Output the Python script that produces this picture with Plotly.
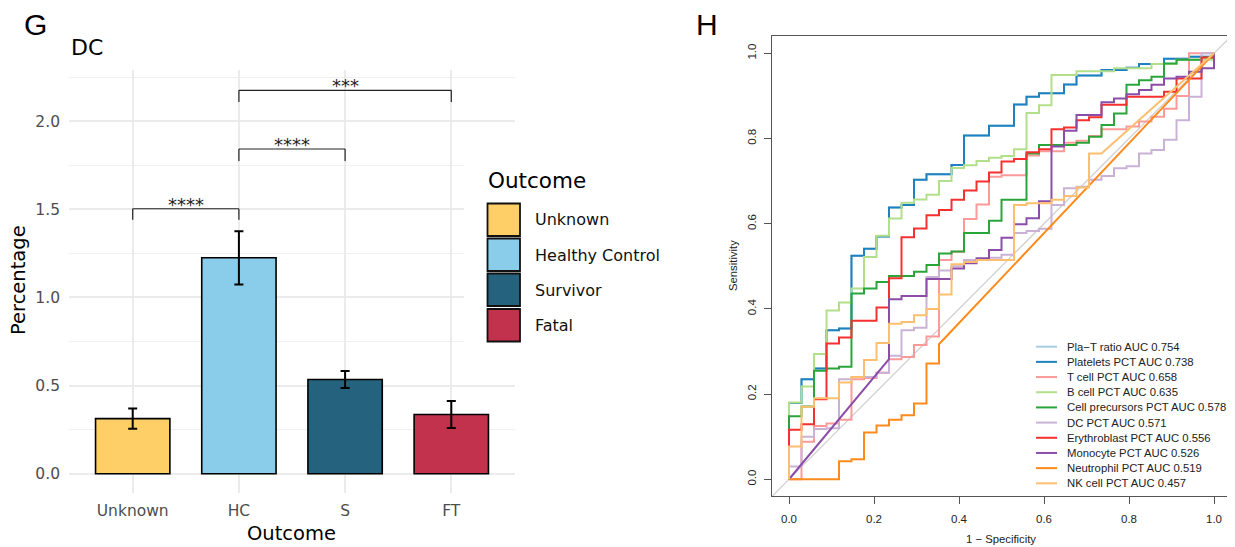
import plotly.graph_objects as go

W, H = 1235, 547
OFF = 8  # default page body margin of the html page
FW, FH = W - OFF, H - OFF

# ---------------- Panel G data ----------------
categories = ["Unknown", "HC", "S", "FT"]
legend_names = ["Unknown", "Healthy Control", "Survivor", "Fatal"]
bar_colors = ["#FECE67", "#89CDEB", "#24627E", "#C3324D"]
mean_pct = [0.313, 1.225, 0.535, 0.336]
se_pct = [0.057, 0.151, 0.048, 0.077]

cmp_left = [0, 1, 1]
cmp_right = [1, 2, 3]
cmp_level = [1.503, 1.842, 2.175]
cmp_drop = [0.063, 0.068, 0.066]
cmp_label = ["****", "****", "***"]

# ---------------- Panel H data (ROC curves) ----------------
platelets_fpr = [0, 0, 0.0294, 0.0294, 0.0588, 0.0588, 0.0882, 0.0882, 0.1176, 0.1176, 0.147, 0.147, 0.1765, 0.1765,
                 0.2059, 0.2059, 0.2353, 0.2353, 0.2647, 0.2647, 0.2941, 0.2941, 0.3235, 0.3235, 0.3824, 0.3824,
                 0.4118, 0.4118, 0.4706, 0.4706, 0.5294, 0.5294, 0.5588, 0.5588, 0.5882, 0.5882, 0.6471, 0.6471,
                 0.6765, 0.6765, 0.7353, 0.7353, 0.7941, 0.7941, 0.8235, 0.8235, 0.8824, 0.8824, 0.9412, 0.9412, 1, 1]
platelets_tpr = [0, 0.179, 0.179, 0.235, 0.235, 0.26, 0.26, 0.35, 0.35, 0.354, 0.354, 0.525, 0.525, 0.541,
                 0.541, 0.570, 0.570, 0.638, 0.638, 0.644, 0.644, 0.703, 0.703, 0.716, 0.716, 0.738,
                 0.738, 0.807, 0.807, 0.830, 0.830, 0.880, 0.880, 0.898, 0.898, 0.906, 0.906, 0.927,
                 0.927, 0.948, 0.948, 0.961, 0.961, 0.966, 0.966, 0.975, 0.975, 0.987, 0.987, 0.992, 0.992, 1]
plat_fpr = list(platelets_fpr)
plat_tpr = list(platelets_tpr)

tcell_fpr = [0, 0.0294, 0.0294, 0.0588, 0.0588, 0.0882, 0.0882, 0.1176, 0.1176, 0.147, 0.147, 0.1765, 0.1765,
             0.2059, 0.2059, 0.2353, 0.2353, 0.2647, 0.2647, 0.2941, 0.2941, 0.3235, 0.3235, 0.3529, 0.3529,
             0.3824, 0.3824, 0.4118, 0.4118, 0.4412, 0.4412, 0.4706, 0.4706, 0.5, 0.5, 0.5588, 0.5588, 0.5882,
             0.5882, 0.6471, 0.6471, 0.6765, 0.6765, 0.7059, 0.7059, 0.7353, 0.7353, 0.7941, 0.7941, 0.8235,
             0.8235, 0.8529, 0.8529, 0.8824, 0.8824, 0.9118, 0.9118, 0.9412, 0.9412, 1]
tcell_tpr = [0, 0, 0.088, 0.088, 0.125, 0.125, 0.131, 0.131, 0.14, 0.14, 0.235, 0.235, 0.238,
             0.238, 0.25, 0.25, 0.282, 0.282, 0.287, 0.287, 0.315, 0.315, 0.335, 0.335, 0.515,
             0.515, 0.534, 0.534, 0.611, 0.611, 0.645, 0.645, 0.710, 0.710, 0.714, 0.714, 0.76, 0.76,
             0.77, 0.77, 0.79, 0.79, 0.795, 0.795, 0.806, 0.806, 0.822, 0.822, 0.828, 0.828,
             0.84, 0.84, 0.851, 0.851, 0.87, 0.87, 0.90, 0.90, 1.0, 1.0]

bcell_fpr = [0, 0, 0.0294, 0.0294, 0.0588, 0.0588, 0.0882, 0.0882, 0.1176, 0.1176, 0.147, 0.147, 0.1765, 0.1765,
             0.2059, 0.2059, 0.2353, 0.2353, 0.2647, 0.2647, 0.2941, 0.2941, 0.3235, 0.3235, 0.3529, 0.3529,
             0.3824, 0.3824, 0.4118, 0.4118, 0.4412, 0.4412, 0.4706, 0.4706, 0.5, 0.5, 0.5294, 0.5294, 0.5588,
             0.5588, 0.5882, 0.5882, 0.6176, 0.6176, 0.6765, 0.6765, 0.7647, 0.7647, 0.8529, 0.8529, 0.9118,
             0.9118, 1, 1]
bcell_tpr = [0, 0.18, 0.18, 0.218, 0.218, 0.294, 0.294, 0.396, 0.396, 0.415, 0.415, 0.448, 0.448, 0.522,
             0.522, 0.572, 0.572, 0.612, 0.612, 0.649, 0.649, 0.657, 0.657, 0.668, 0.668, 0.70,
             0.70, 0.731, 0.731, 0.737, 0.737, 0.747, 0.747, 0.755, 0.755, 0.759, 0.759, 0.775, 0.775,
             0.86, 0.86, 0.878, 0.878, 0.949, 0.949, 0.958, 0.958, 0.965, 0.965, 0.975, 0.975,
             0.985, 0.985, 1]

precursor_fpr = [0, 0, 0.0294, 0.0294, 0.0588, 0.0588, 0.0882, 0.0882, 0.1176, 0.1176, 0.147, 0.147, 0.1765,
                 0.1765, 0.2059, 0.2059, 0.2353, 0.2353, 0.2941, 0.2941, 0.3235, 0.3235, 0.3529, 0.3529, 0.3824,
                 0.3824, 0.4118, 0.4118, 0.4706, 0.4706, 0.5, 0.5, 0.5588, 0.5588, 0.5882, 0.5882, 0.6765, 0.6765,
                 0.7059, 0.7059, 0.7353, 0.7353, 0.7647, 0.7647, 0.7941, 0.7941, 0.8235, 0.8235, 0.8529, 0.8529,
                 0.8824, 0.8824, 0.9118, 0.9118, 0.9706, 0.9706, 1, 1]
precursor_tpr = [0, 0.148, 0.148, 0.171, 0.171, 0.255, 0.255, 0.26, 0.26, 0.264, 0.264, 0.436, 0.436,
                 0.448, 0.448, 0.463, 0.463, 0.477, 0.477, 0.487, 0.487, 0.503, 0.503, 0.53, 0.53,
                 0.535, 0.535, 0.578, 0.578, 0.607, 0.607, 0.656, 0.656, 0.765, 0.765, 0.785, 0.785, 0.79,
                 0.79, 0.804, 0.804, 0.832, 0.832, 0.859, 0.859, 0.926, 0.926, 0.937, 0.937, 0.945,
                 0.945, 0.976, 0.976, 0.985, 0.985, 0.99, 0.99, 1]

dc_fpr = [0, 0, 0.0294, 0.0294, 0.0588, 0.0588, 0.0882, 0.0882, 0.1176, 0.1176, 0.147, 0.147, 0.2059, 0.2059,
          0.2353, 0.2353, 0.2647, 0.2647, 0.2941, 0.2941, 0.3235, 0.3235, 0.3529, 0.3529, 0.3824, 0.3824,
          0.4118, 0.4118, 0.4706, 0.4706, 0.5, 0.5, 0.5294, 0.5294, 0.5588, 0.5588, 0.5882, 0.5882, 0.6176,
          0.6176, 0.6471, 0.6471, 0.6765, 0.6765, 0.7059, 0.7059, 0.7353, 0.7353, 0.7647, 0.7647, 0.7941,
          0.7941, 0.8235, 0.8235, 0.8529, 0.8529, 0.8824, 0.8824, 0.9118, 0.9118, 0.9412, 0.9412, 0.9706,
          0.9706, 1]
dc_tpr = [0, 0.03, 0.03, 0.10, 0.10, 0.118, 0.118, 0.12, 0.12, 0.235, 0.235, 0.24, 0.24, 0.25,
          0.25, 0.29, 0.29, 0.35, 0.35, 0.356, 0.356, 0.475, 0.475, 0.49, 0.49, 0.50,
          0.50, 0.515, 0.515, 0.52, 0.52, 0.527, 0.527, 0.578, 0.578, 0.583, 0.583, 0.588, 0.588,
          0.644, 0.644, 0.683, 0.683, 0.687, 0.687, 0.703, 0.703, 0.712, 0.712, 0.73, 0.73,
          0.735, 0.735, 0.765, 0.765, 0.773, 0.773, 0.797, 0.797, 0.843, 0.843, 0.898, 0.898,
          1.0, 1.0]

ery_fpr = [0, 0, 0.0294, 0.0294, 0.0588, 0.0588, 0.0882, 0.0882, 0.1176, 0.1176, 0.147, 0.147, 0.2059, 0.2059,
           0.2353, 0.2353, 0.2647, 0.2647, 0.2941, 0.2941, 0.3235, 0.3235, 0.3529, 0.3529, 0.3824, 0.3824,
           0.4118, 0.4118, 0.4412, 0.4412, 0.4706, 0.4706, 0.5, 0.5, 0.5294, 0.5294, 0.5588, 0.5588, 0.5882,
           0.5882, 0.6176, 0.6176, 0.6471, 0.6471, 0.6765, 0.6765, 0.7059, 0.7059, 0.7353, 0.7353, 0.7941,
           0.7941, 0.8824, 0.8824, 0.9118, 0.9118, 0.9706, 0.9706, 1, 1]
ery_tpr = [0, 0.116, 0.116, 0.129, 0.129, 0.188, 0.188, 0.319, 0.319, 0.333, 0.333, 0.372, 0.372, 0.403,
           0.403, 0.472, 0.472, 0.568, 0.568, 0.589, 0.589, 0.62, 0.62, 0.632, 0.632, 0.656,
           0.656, 0.678, 0.678, 0.699, 0.699, 0.72, 0.72, 0.746, 0.746, 0.752, 0.752, 0.768, 0.768,
           0.775, 0.775, 0.822, 0.822, 0.826, 0.826, 0.843, 0.843, 0.85, 0.85, 0.879, 0.879,
           0.898, 0.898, 0.91, 0.91, 0.941, 0.941, 0.99, 0.99, 1]

mono_fpr = [0, 0.2353, 0.2353, 0.2647, 0.2647, 0.3235, 0.3235, 0.3824, 0.3824, 0.4118, 0.4118, 0.4412, 0.4412,
            0.4706, 0.4706, 0.5, 0.5, 0.5294, 0.5294, 0.5588, 0.5588, 0.5882, 0.5882, 0.6176, 0.6176, 0.6471,
            0.6471, 0.6765, 0.6765, 0.7353, 0.7353, 0.7647, 0.7647, 0.7941, 0.7941, 0.8235, 0.8235, 0.8529,
            0.8529, 0.8824, 0.8824, 0.9118, 0.9118, 0.9412, 0.9412, 0.9706, 0.9706, 1, 1]
mono_tpr = [0, 0.282, 0.4225, 0.4225, 0.430, 0.430, 0.470, 0.470, 0.495, 0.495, 0.507, 0.507, 0.519,
            0.519, 0.538, 0.538, 0.567, 0.567, 0.599, 0.599, 0.613, 0.613, 0.653, 0.653, 0.781, 0.781,
            0.818, 0.818, 0.855, 0.855, 0.885, 0.885, 0.894, 0.894, 0.904, 0.904, 0.914, 0.914,
            0.926, 0.926, 0.941, 0.941, 0.945, 0.945, 0.957, 0.957, 0.965, 0.965, 1]

neut_fpr = [0, 0.1176, 0.1176, 0.147, 0.147, 0.1765, 0.1765, 0.2059, 0.2059, 0.2353, 0.2353, 0.2647, 0.2647,
            0.2941, 0.2941, 0.3235, 0.3235, 0.3529, 0.3529, 1]
neut_tpr = [0, 0, 0.042, 0.042, 0.047, 0.047, 0.110, 0.110, 0.126, 0.126, 0.140, 0.140, 0.150,
            0.150, 0.178, 0.178, 0.272, 0.272, 0.317, 1]

nk_fpr = [0, 0, 0.0294, 0.0294, 0.0588, 0.0588, 0.1176, 0.1176, 0.147, 0.147, 0.1765, 0.1765, 0.2059, 0.2059,
          0.2353, 0.2353, 0.2647, 0.2647, 0.2941, 0.2941, 0.3235, 0.3235, 0.3529, 0.3529, 0.3824, 0.3824,
          0.4118, 0.4118, 0.4412, 0.4412, 0.5294, 0.5294, 0.5588, 0.5588, 0.6176, 0.6176, 0.6471, 0.6471,
          0.6765, 0.6765, 0.7059, 0.7059, 0.7353, 1]
nk_tpr = [0, 0.077, 0.077, 0.17, 0.17, 0.19, 0.19, 0.227, 0.227, 0.24, 0.24, 0.28, 0.28, 0.32,
          0.32, 0.365, 0.365, 0.369, 0.369, 0.385, 0.385, 0.40, 0.40, 0.434, 0.434, 0.505,
          0.505, 0.51, 0.51, 0.515, 0.515, 0.644, 0.644, 0.648, 0.648, 0.656, 0.656, 0.665,
          0.665, 0.685, 0.685, 0.765, 0.765, 1]

roc_labels = ["Pla\u2212T ratio AUC 0.754", "Platelets PCT AUC 0.738", "T cell PCT AUC 0.658",
              "B cell PCT AUC 0.635", "Cell precursors PCT AUC 0.578", "DC PCT AUC 0.571",
              "Erythroblast PCT AUC 0.556", "Monocyte PCT AUC 0.526", "Neutrophil PCT AUC 0.519",
              "NK cell PCT AUC 0.457"]
roc_colors = ["#A6CEE3", "#1F82C0", "#FB9A99", "#B2DF8A", "#2AA53A", "#CAB2D6",
              "#F5312F", "#8B4DA8", "#FF8A1C", "#FDBF6F"]
roc_fpr = [plat_fpr, platelets_fpr, tcell_fpr, bcell_fpr, precursor_fpr, dc_fpr, ery_fpr, mono_fpr, neut_fpr, nk_fpr]
roc_tpr = [plat_tpr, platelets_tpr, tcell_tpr, bcell_tpr, precursor_tpr, dc_tpr, ery_tpr, mono_tpr, neut_tpr, nk_tpr]

roc_ticks = [0, 0.2, 0.4, 0.6, 0.8, 1.0]
roc_ticktext = ["0.0", "0.2", "0.4", "0.6", "0.8", "1.0"]


def px(x):
    """page pixel x -> paper fraction"""
    return (x - OFF) / FW


def py(y):
    """page pixel y (from top) -> paper fraction"""
    return 1 - (y - OFF) / FH


GFONT = "DejaVu Sans"
RFONT = "Liberation Sans"

fig = go.Figure()

# ---- Panel G bars ----
fig.add_trace(go.Bar(
    x=categories, y=mean_pct, width=0.7,
    marker=dict(color=bar_colors, line=dict(color="black", width=1.6)),
    error_y=dict(type="data", array=se_pct, color="black", thickness=2, width=4.5),
    showlegend=False, hoverinfo="skip", xaxis="x", yaxis="y"))

# ---- Panel H curves ----
for f, t, c in zip(roc_fpr, roc_tpr, roc_colors):
    fig.add_trace(go.Scatter(x=f, y=t, mode="lines", line=dict(color=c, width=2),
                             showlegend=False, hoverinfo="skip", xaxis="x2", yaxis="y2"))

shapes = []
annotations = []

# diagonal reference line
shapes.append(dict(type="line", xref="x2", yref="y2", x0=-0.04, y0=-0.04, x1=1.04, y1=1.04,
                   line=dict(color="#D0D0D0", width=1.3), layer="below"))

# significance brackets
for a, b, lv, d, lab in zip(cmp_left, cmp_right, cmp_level, cmp_drop, cmp_label):
    shapes.append(dict(type="line", xref="x", yref="y", x0=a, x1=a, y0=lv - d, y1=lv,
                       line=dict(color="#222", width=1.2)))
    shapes.append(dict(type="line", xref="x", yref="y", x0=a, x1=b, y0=lv, y1=lv,
                       line=dict(color="#222", width=1.2)))
    shapes.append(dict(type="line", xref="x", yref="y", x0=b, x1=b, y0=lv - d, y1=lv,
                       line=dict(color="#222", width=1.2)))
    annotations.append(dict(text=lab, xref="x", yref="y", x=(a + b) / 2, y=lv, yanchor="bottom",
                            yshift=-8, showarrow=False, font=dict(family=GFONT, size=18, color="#222")))

# legend (panel G): white background patch covering gridlines, keys, labels
shapes.append(dict(type="rect", xref="paper", yref="paper", x0=px(464), x1=px(700), y0=py(362), y1=py(130),
                   fillcolor="white", line=dict(width=0), layer="above"))
key_top = [203.5, 238.5, 273.5, 309]
for i, name in enumerate(legend_names):
    shapes.append(dict(type="rect", xref="paper", yref="paper", x0=px(487.5), x1=px(520),
                       y0=py(key_top[i] + 32.5), y1=py(key_top[i]),
                       fillcolor=bar_colors[i], line=dict(color="#111", width=1.8), layer="above"))
    annotations.append(dict(text=name, xref="paper", yref="paper", x=px(533), y=py(key_top[i] + 16.5),
                            xanchor="left", yanchor="middle", showarrow=False,
                            font=dict(family=GFONT, size=16, color="#111")))
annotations.append(dict(text="Outcome", xref="paper", yref="paper", x=px(486), y=py(181),
                        xanchor="left", yanchor="middle", showarrow=False,
                        font=dict(family=GFONT, size=21.5, color="black")))

# legend (panel H)
for i, (lab, c) in enumerate(zip(roc_labels, roc_colors)):
    yy = 346.7 + 15.18 * i
    shapes.append(dict(type="line", xref="paper", yref="paper", x0=px(1036), x1=px(1057), y0=py(yy), y1=py(yy),
                       line=dict(color=c, width=2), layer="above"))
    annotations.append(dict(text=lab, xref="paper", yref="paper", x=px(1065), y=py(yy),
                            xanchor="left", yanchor="middle", showarrow=False,
                            font=dict(family=RFONT, size=11.3, color="#222")))

# titles & panel letters
annotations += [
    dict(text="G", xref="paper", yref="paper", x=px(35), y=py(25), xanchor="center", yanchor="middle",
         showarrow=False, font=dict(family=RFONT, size=30, color="black")),
    dict(text="H", xref="paper", yref="paper", x=px(707), y=py(25), xanchor="center", yanchor="middle",
         showarrow=False, font=dict(family=RFONT, size=30, color="black")),
    dict(text="DC", xref="paper", yref="paper", x=px(69), y=py(48), xanchor="left", yanchor="middle",
         showarrow=False, font=dict(family=GFONT, size=22, color="black")),
    dict(text="Percentage", xref="paper", yref="paper", x=px(18), y=py(280), xanchor="center", yanchor="middle",
         textangle=-90, showarrow=False, font=dict(family=GFONT, size=19.5, color="black")),
    dict(text="Outcome", xref="paper", yref="paper", x=px(291), y=py(533), xanchor="center", yanchor="middle",
         showarrow=False, font=dict(family=GFONT, size=19.5, color="black")),
    dict(text="Sensitivity", xref="paper", yref="paper", x=px(733), y=py(266), xanchor="center", yanchor="middle",
         textangle=-90, showarrow=False, font=dict(family=RFONT, size=11.3, color="#222")),
    dict(text="1 \u2212 Specificity", xref="paper", yref="paper", x=px(1001), y=py(539), xanchor="center",
         yanchor="middle", showarrow=False, font=dict(family=RFONT, size=11.3, color="#222")),
]

fig.update_layout(
    width=FW, height=FH, autosize=False,
    margin=dict(l=0, r=0, t=0, b=0),
    paper_bgcolor="white", plot_bgcolor="white",
    barmode="overlay",
    shapes=shapes, annotations=annotations,
    xaxis=dict(domain=[px(69), px(515)], range=[-0.6, 3.6], type="category",
               categoryorder="array", categoryarray=categories,
               showgrid=True, gridcolor="#EBEBEB", gridwidth=1.5, zeroline=False, showline=False,
               ticks="", ticklabelstandoff=6,
               tickfont=dict(family=GFONT, size=15.5, color="#4D4D4D"), anchor="y", fixedrange=True),
    yaxis=dict(domain=[py(493), py(70)], range=[-0.109, 2.29],
               tickvals=[0, 0.5, 1, 1.5, 2], ticktext=["0.0", "0.5", "1.0", "1.5", "2.0"],
               showgrid=True, gridcolor="#EBEBEB", gridwidth=1.5, zeroline=False, showline=False,
               minor=dict(tickvals=[0.25, 0.75, 1.25, 1.75, 2.25], showgrid=True, gridcolor="#F0F0F0",
                          gridwidth=1),
               ticks="", ticklabelstandoff=8,
               tickfont=dict(family=GFONT, size=15.5, color="#4D4D4D"), anchor="x", fixedrange=True),
    xaxis2=dict(domain=[px(772), px(1231)], range=[-0.04, 1.04], tickvals=roc_ticks, ticktext=roc_ticktext,
                ticks="outside", ticklen=7, tickcolor="#555", tickwidth=1,
                showline=True, mirror=True, linecolor="#555", linewidth=1.2,
                showgrid=False, zeroline=False, ticklabelstandoff=5,
                tickfont=dict(family=RFONT, size=11.5, color="#222"), anchor="y2", fixedrange=True),
    yaxis2=dict(domain=[py(496.3), py(36.3)], range=[-0.04, 1.04], tickvals=roc_ticks, ticktext=roc_ticktext,
                ticks="outside", ticklen=7, tickcolor="#555", tickwidth=1, tickangle=-90,
                showline=True, mirror=True, linecolor="#555", linewidth=1.2,
                showgrid=False, zeroline=False, ticklabelstandoff=3,
                tickfont=dict(family=RFONT, size=11.5, color="#222"), anchor="x2", fixedrange=True),
)

fig.write_html("out.html")
